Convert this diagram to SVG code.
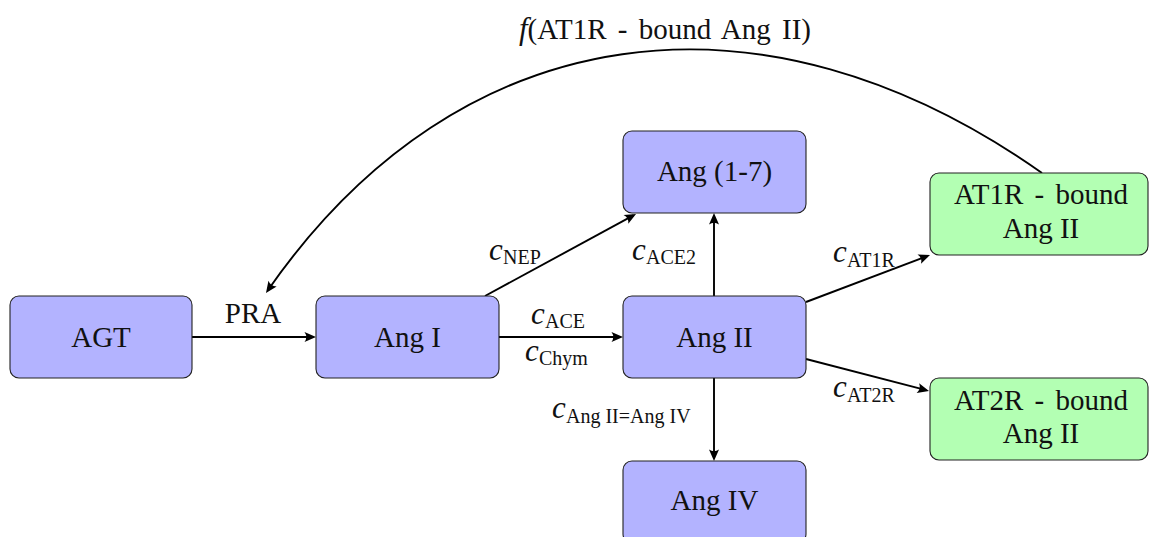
<svg xmlns="http://www.w3.org/2000/svg" width="1149" height="537" viewBox="0 0 1149 537">
  <style>
    .node rect { stroke: #222; stroke-width: 1.1; }
    .blue rect { fill: #b3b3ff; }
    .green rect { fill: #b3ffb3; }
    text { font-family: 'Liberation Serif', 'DejaVu Serif', serif; font-size: 29px; fill: #111; }
    .lbl { text-anchor: middle; }
    .wide { word-spacing: 4px; }
    .v { font-style: italic; font-size: 31px; }
    .s { font-size: 20px; }
    .edge { fill: none; stroke: #000; stroke-width: 1.9; marker-end: url(#arrow); }
  </style>
  <defs>
    <marker id="arrow" markerUnits="userSpaceOnUse" markerWidth="16" markerHeight="14" viewBox="-13 -7 16 14" refX="-3" refY="0" orient="auto">
      <path d="M0,0 L-11.5,-5 Q-8,0 -11.5,5 Z" fill="#000"/>
    </marker>
  </defs>

  <!-- connectors -->
  <g id="connectors">
    <path class="edge" d="M192,337 L313,337"/>
    <path class="edge" d="M499,337 L620,337"/>
    <path class="edge" d="M485,296 L633.4,215.4"/>
    <path class="edge" d="M714,296 L714,216"/>
    <path class="edge" d="M714,378 L714,458"/>
    <path class="edge" d="M806,302 L927.2,256.1"/>
    <path class="edge" d="M806,359 L926.1,390.2"/>
    <path class="edge" d="M1042,173 C763,-24 460,14 267.7,290.5"/>

    <text class="lbl" x="253" y="323">PRA</text>
    <text class="lbl wide" x="665" y="39"><tspan class="v">f</tspan>(AT1R - bound Ang II)</text>

    <text><tspan class="v" x="489" y="260">c</tspan><tspan class="s" x="503" y="264">NEP</tspan></text>
    <text><tspan class="v" x="632" y="260">c</tspan><tspan class="s" x="646" y="264">ACE2</tspan></text>
    <text><tspan class="v" x="531" y="324">c</tspan><tspan class="s" x="545" y="328">ACE</tspan></text>
    <text><tspan class="v" x="525" y="361">c</tspan><tspan class="s" x="539" y="365">Chym</tspan></text>
    <text><tspan class="v" x="552" y="418">c</tspan><tspan class="s" x="566" y="423">Ang II=Ang IV</tspan></text>
    <text><tspan class="v" x="833" y="262">c</tspan><tspan class="s" x="847" y="267">AT1R</tspan></text>
    <text><tspan class="v" x="833" y="397">c</tspan><tspan class="s" x="847" y="402">AT2R</tspan></text>
  </g>

  <!-- nodes -->
  <g id="agt" class="node blue">
    <rect x="10" y="296" width="182" height="82" rx="9"/>
    <text class="lbl" x="101" y="347">AGT</text>
  </g>
  <g id="ang1" class="node blue">
    <rect x="316" y="296" width="183" height="82" rx="9"/>
    <text class="lbl" x="407.5" y="347">Ang I</text>
  </g>
  <g id="ang2" class="node blue">
    <rect x="623" y="296" width="183" height="82" rx="9"/>
    <text class="lbl" x="714.5" y="347">Ang II</text>
  </g>
  <g id="ang17" class="node blue">
    <rect x="623" y="131" width="183" height="82" rx="9"/>
    <text class="lbl" x="714.5" y="181">Ang (1-7)</text>
  </g>
  <g id="ang4" class="node blue">
    <rect x="623" y="461" width="183" height="82" rx="9"/>
    <text class="lbl" x="714.5" y="510">Ang IV</text>
  </g>
  <g id="at1r" class="node green">
    <rect x="930" y="173" width="218" height="82" rx="9"/>
    <text class="lbl wide" x="1041" y="204">AT1R - bound</text>
    <text class="lbl" x="1041" y="238">Ang II</text>
  </g>
  <g id="at2r" class="node green">
    <rect x="930" y="378" width="218" height="82" rx="9"/>
    <text class="lbl wide" x="1041" y="410">AT2R - bound</text>
    <text class="lbl" x="1041" y="443">Ang II</text>
  </g>
</svg>
